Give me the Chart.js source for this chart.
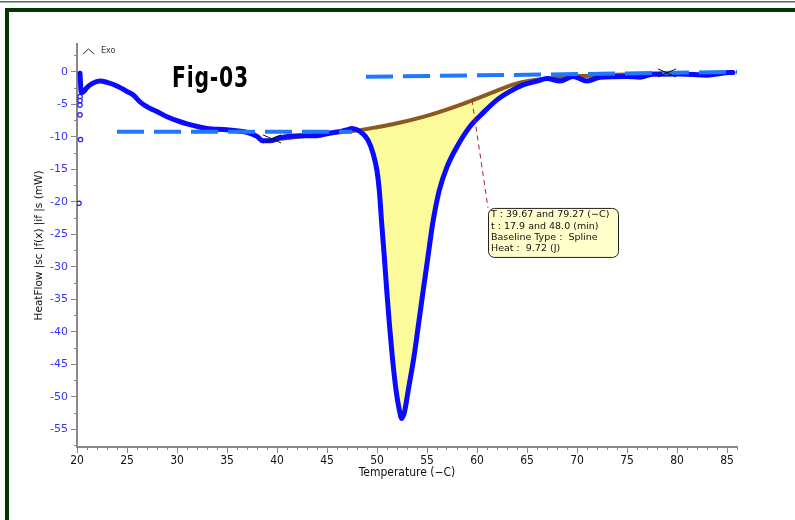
<!DOCTYPE html>
<html><head><meta charset="utf-8">
<script src="https://cdn.jsdelivr.net/npm/chart.js@4"></script>
<style>html,body{margin:0;padding:0;background:#fff;overflow:hidden}canvas{display:block}</style>
</head><body>
<canvas id="c" width="795" height="520" style="width:795px;height:520px"></canvas>
<script>
// ---- data ----
const curveT  = [20.3,20.35,20.42,20.7,21.0,21.5,22.3,23.0,24.0,25.0,25.6,26.3,27.3,28.0,29.0,30.0,31.0,33.0,35.0,37.0,38.0,38.6,39.3,40.3,42.3,44.0,45.3,46.5,47.0,47.5,48.0,48.5,49.1,49.6,50.0,50.23,50.47,50.73,50.97,51.23,51.53,51.9,52.23,52.47,52.75,53.13,53.7,54.17,54.63,55.1,55.57,56.23,57.0,58.0,59.3,60.6,62.0,63.3,64.6,66.0,67.0,68.3,69.6,71.0,72.3,75.0,76.3,77.6,80.3,83.0,85.3,85.6];
const curveHF = [-0.2,-1.6,-3.2,-3.0,-2.4,-1.8,-1.4,-1.6,-2.15,-3.0,-3.5,-4.6,-5.6,-6.1,-6.9,-7.5,-8.0,-8.7,-8.9,-9.3,-9.9,-10.6,-10.6,-10.1,-9.8,-9.8,-9.4,-9.1,-8.9,-8.7,-8.9,-9.4,-10.5,-12.5,-15.2,-18.2,-23.3,-28.4,-33.5,-38.6,-43.8,-48.9,-52.0,-53.3,-52.3,-48.9,-43.8,-38.6,-33.5,-28.4,-23.3,-18.2,-14.6,-11.5,-8.4,-6.3,-4.3,-3.0,-2.0,-1.4,-1.0,-1.4,-0.7,-1.4,-0.8,-0.7,-0.8,-0.35,-0.3,-0.5,-0.1,-0.1];

const outlierT  = [20.3,20.3,20.3,20.3,20.35,20.2];
const outlierHF = [-3.8,-4.4,-5.1,-6.6,-10.4,-20.2];

const baseT  = [39.67,42,45,48.3,50,52,55.3,58.6,60.3,61.3,64,66,68,70,73,76,79.27];
const baseHF = [-10.4,-10.0,-9.5,-8.95,-8.5,-7.9,-6.6,-4.9,-3.9,-3.3,-1.75,-1.2,-0.9,-0.65,-0.5,-0.35,-0.2];

const dashLeftT  = [24.0,47.5];
const dashLeftHF = [-9.2,-9.2];
const dashRightT  = [48.9,86.0];
const dashRightHF = [-0.75,0.0];

const leaderT  = [59.5,61.1];
const leaderHF = [-4.3,-20.92];

const markT  = [39.5,79.0];
const markHF = [-10.3,-0.15];

const annotationLines = ["T : 39.67 and 79.27 (\u2212C)", "t : 17.9 and 48.0 (min)", "Baseline Type :  Spline", "Heat :  9.72 (J)"];
const figTitle = "Fig-03";
const exoLabel = "Exo";
const xTitle = "Temperature (\u2212C)";
const yTitle = "HeatFlow |sc |f(x) |if |s (mW)";

const xRange = [20, 86];
const yRange = [-57.7, 4.3];
const xMajorStep = 5, xMinorStep = 1, yMajorStep = 5, yMinorStep = 2.5;

const pts = (xs, ys) => xs.map((v, i) => ({x: v, y: ys[i]}));

const decor = {
  id: 'decor',
  beforeDraw(chart) {
    const ctx = chart.ctx;
    ctx.save();
    ctx.fillStyle = '#fff';
    ctx.fillRect(0, 0, chart.width, chart.height);
    ctx.restore();
  },
  afterDraw(chart) {
    const {ctx, scales: {x, y}} = chart;
    ctx.save();
    // frame
    ctx.fillStyle = '#4f6f4f';
    ctx.fillRect(0, 1, chart.width, 1.5);
    ctx.fillStyle = '#033603';
    ctx.fillRect(5, 8, chart.width - 5, 4);
    ctx.fillRect(5, 8, 4, chart.height - 8);
    // Exo marker
    ctx.strokeStyle = '#333'; ctx.lineWidth = 1;
    ctx.beginPath(); ctx.moveTo(83, 54); ctx.lineTo(88.5, 49); ctx.lineTo(94, 54); ctx.stroke();
    ctx.fillStyle = '#333'; ctx.font = '8px "DejaVu Sans", sans-serif';
    ctx.textBaseline = 'middle'; ctx.textAlign = 'left';
    ctx.fillText(exoLabel, 101, 50.5);
    // Figure title (condensed gothic look)
    ctx.save();
    ctx.translate(172, 87);
    ctx.scale(0.78, 1);
    ctx.fillStyle = '#000';
    ctx.font = 'bold 29px "DejaVu Sans Condensed", "DejaVu Sans", sans-serif';
    ctx.textBaseline = 'alphabetic';
    try { ctx.letterSpacing = '1px'; } catch (e) {}
    ctx.fillText(figTitle, 0, 0);
    ctx.restore();
    // baseline end marks
    ctx.strokeStyle = '#111'; ctx.lineWidth = 1;
    markT.forEach((t, i) => {
      const cx = x.getPixelForValue(t), cy = y.getPixelForValue(markHF[i]);
      ctx.beginPath();
      ctx.moveTo(cx - 9, cy - 4); ctx.lineTo(cx + 9, cy + 4);
      ctx.moveTo(cx - 9, cy + 4); ctx.lineTo(cx + 9, cy - 4);
      ctx.stroke();
    });
    // annotation box
    const bx = x.getPixelForValue(leaderT[1]), by = y.getPixelForValue(leaderHF[1]);
    ctx.beginPath();
    ctx.roundRect(bx + 0.5, by + 0.5, 130, 49, 6);
    ctx.fillStyle = '#ffffcc'; ctx.fill();
    ctx.strokeStyle = '#222'; ctx.lineWidth = 1; ctx.stroke();
    ctx.fillStyle = '#111'; ctx.font = '9.5px "DejaVu Sans", sans-serif';
    ctx.textBaseline = 'middle';
    annotationLines.forEach((s, i) => ctx.fillText(s, bx + 3, by + 7 + i * 11.3));
    ctx.restore();
  }
};

const tickFontY = {family: '"DejaVu Sans", sans-serif', size: 11};
const tickFontX = {family: '"DejaVu Sans Condensed", "DejaVu Sans", sans-serif', size: 12};

new Chart(document.getElementById('c'), {
  type: 'line',
  data: {
    datasets: [
      {data: pts(leaderT, leaderHF), borderColor: '#b3202a', borderWidth: 1, borderDash: [5, 4], pointRadius: 0, order: 0},
      {data: pts(dashLeftT, dashLeftHF), borderColor: '#1f78ff', borderWidth: 4, borderDash: [27, 10], pointRadius: 0, order: 1},
      {data: pts(dashRightT, dashRightHF), borderColor: '#1f78ff', borderWidth: 4, borderDash: [27, 10], pointRadius: 0, order: 1},
      {data: pts(curveT, curveHF), borderColor: '#0a0aff', borderWidth: 5, pointRadius: 0, cubicInterpolationMode: 'monotone', borderJoinStyle: 'round', borderCapStyle: 'round', order: 2},
      {data: pts(outlierT, outlierHF), showLine: false, pointRadius: 2.2, pointBorderWidth: 1.2, pointBackgroundColor: '#fff', pointBorderColor: '#1a1aff', order: 2},
      {data: pts(baseT, baseHF), borderColor: '#8b5a1e', borderWidth: 4, pointRadius: 0, cubicInterpolationMode: 'monotone', order: 3,
       fill: {target: 3, above: '#fbfb9c', below: 'rgba(0,0,0,0)'}}
    ]
  },
  options: {
    responsive: false,
    animation: false,
    events: [],
    layout: {padding: {left: 0, top: 44, right: 58, bottom: 0}},
    plugins: {legend: {display: false}, tooltip: {enabled: false}, title: {display: false}},
    scales: {
      x: {
        type: 'linear', position: 'bottom', weight: 1, min: xRange[0], max: xRange[1],
        ticks: {stepSize: xMajorStep, includeBounds: false, autoSkip: false, maxRotation: 0, color: '#111', font: tickFontX, padding: 1, callback: v => String(v)},
        grid: {drawOnChartArea: false, tickLength: 6, tickColor: '#888', tickWidth: 1},
        border: {color: '#888', width: 2},
        title: {display: true, text: xTitle, color: '#111', font: tickFontX, padding: {top: 0, bottom: 40}},
        afterFit(s) { s.height = 73; }
      },
      xMinor: {
        type: 'linear', position: 'bottom', weight: 0, min: xRange[0], max: xRange[1],
        ticks: {stepSize: xMinorStep, includeBounds: false, display: false},
        grid: {drawOnChartArea: false, tickLength: 3, tickColor: '#888', tickWidth: 1},
        border: {display: false},
        afterFit(s) { s.height = 0; }
      },
      y: {
        type: 'linear', position: 'left', weight: 1, min: yRange[0], max: yRange[1],
        ticks: {stepSize: yMajorStep, includeBounds: false, autoSkip: false, color: '#3333ff', font: tickFontY, padding: 3, callback: v => String(v)},
        grid: {drawOnChartArea: false, tickLength: 6, tickColor: '#888', tickWidth: 1},
        border: {color: '#888', width: 2},
        title: {display: true, text: yTitle, color: '#111', font: {family: '"DejaVu Sans", sans-serif', size: 10.5}, padding: {top: 33, bottom: 0}},
        afterFit(s) { s.width = 77; }
      },
      yMinor: {
        type: 'linear', position: 'left', weight: 0, min: yRange[0], max: yRange[1],
        ticks: {stepSize: yMinorStep, includeBounds: false, display: false},
        grid: {drawOnChartArea: false, tickLength: 3, tickColor: '#888', tickWidth: 1},
        border: {display: false},
        afterFit(s) { s.width = 0; }
      }
    }
  },
  plugins: [decor]
});
</script>
</body></html>
